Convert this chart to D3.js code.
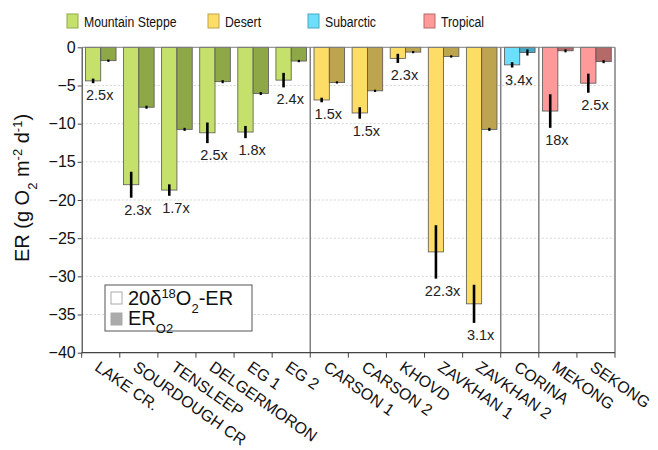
<!DOCTYPE html>
<html>
<head>
<meta charset="utf-8">
<script src="https://cdn.jsdelivr.net/npm/d3@7"></script>
<style>
  html, body { margin: 0; padding: 0; background: #fff; }
  svg { display: block; font-family: "Liberation Sans", Arial, sans-serif; }
</style>
</head>
<body>
<svg id="chart" width="658" height="450"></svg>
<script>
// Sites, ecosystem groups and respiration estimates (g O2 m-2 d-1)
const sites = ["LAKE CR.", "SOURDOUGH CR", "TENSLEEP", "DELGERMORON", "EG 1", "EG 2",
  "CARSON 1", "CARSON 2", "KHOVD", "ZAVKHAN 1", "ZAVKHAN 2", "CORINA", "MEKONG", "SEKONG"];
const siteGroup = ["Mountain Steppe", "Mountain Steppe", "Mountain Steppe", "Mountain Steppe",
  "Mountain Steppe", "Mountain Steppe", "Desert", "Desert", "Desert", "Desert", "Desert",
  "Subarctic", "Tropical", "Tropical"];
const groups = ["Mountain Steppe", "Desert", "Subarctic", "Tropical"];
const erIsotope = [-4.4, -18.0, -18.7, -11.2, -11.1, -4.3, -6.9, -8.6, -1.45, -26.8, -33.6, -2.3, -8.35, -4.7];
const erIsotopeErr = [0.3, 1.7, 0.75, 1.35, 0.8, 0.95, 0.3, 0.75, 0.6, 3.5, 2.5, 0.35, 2.2, 1.25];
const erO2 = [-1.75, -7.85, -10.75, -4.5, -6.05, -1.8, -4.6, -5.7, -0.63, -1.2, -10.75, -0.68, -0.46, -1.88];
const erO2Err = [0.15, 0.2, 0.2, 0.2, 0.2, 0.15, 0.15, 0.15, 0.15, 0.15, 0.2, 0.4, 0.2, 0.2];
const ratioLabels = ["2.5x", "2.3x", "1.7x", "2.5x", "1.8x", "2.4x", "1.5x", "1.5x", "2.3x",
  "22.3x", "3.1x", "3.4x", "18x", "2.5x"];
const yTicks = [0, -5, -10, -15, -20, -25, -30, -35, -40];

const lightColor = { "Mountain Steppe": "#c6e16b", "Desert": "#fedd66", "Subarctic": "#6cdffc", "Tropical": "#fe9a9a" };
const darkColor = { "Mountain Steppe": "#8ea747", "Desert": "#bda44f", "Subarctic": "#4aa7c2", "Tropical": "#b56a6a" };

const svg = d3.select("#chart");
const plotLeft = 81.7, plotRight = 615, plotTop = 47.3, plotBottom = 352.7;

const x = d3.scaleBand().domain(sites).range([plotLeft, plotRight]).padding(0);
const xSub = d3.scaleBand().domain(["iso", "o2"]).range([0, x.bandwidth()]).paddingInner(0).paddingOuter(0.245);
const y = d3.scaleLinear().domain([-40, 0]).range([plotBottom, plotTop]);

// dotted grid
svg.append("g").selectAll("line").data(yTicks.filter(t => t !== 0)).join("line")
  .attr("x1", plotLeft).attr("x2", plotRight)
  .attr("y1", d => y(d)).attr("y2", d => y(d))
  .attr("stroke", "#d4d4d4").attr("stroke-width", 1).attr("stroke-dasharray", "2,2");

// group separators
const sepIdx = [6, 11, 12];
svg.append("g").selectAll("line").data(sepIdx).join("line")
  .attr("x1", d => x(sites[d])).attr("x2", d => x(sites[d]))
  .attr("y1", plotTop).attr("y2", plotBottom)
  .attr("stroke", "#808080").attr("stroke-width", 1.5);
svg.append("line").attr("x1", plotRight).attr("x2", plotRight).attr("y1", plotTop).attr("y2", plotBottom)
  .attr("stroke", "#808080").attr("stroke-width", 1.5);

// bars
const rows = sites.map((s, i) => ({ s, i, g: siteGroup[i] }));
const barG = svg.append("g");
barG.selectAll("rect.iso").data(rows).join("rect").attr("class", "iso")
  .attr("x", d => x(d.s) + xSub("iso")).attr("width", xSub.bandwidth())
  .attr("y", y(0)).attr("height", d => y(erIsotope[d.i]) - y(0))
  .attr("fill", d => lightColor[d.g]).attr("stroke", "#555").attr("stroke-width", 0.8);
barG.selectAll("rect.o2").data(rows).join("rect").attr("class", "o2")
  .attr("x", d => x(d.s) + xSub("o2")).attr("width", xSub.bandwidth())
  .attr("y", y(0)).attr("height", d => y(erO2[d.i]) - y(0))
  .attr("fill", d => darkColor[d.g]).attr("stroke", "#555").attr("stroke-width", 0.8);

// error bars
barG.selectAll("line.eiso").data(rows).join("line").attr("class", "eiso")
  .attr("x1", d => x(d.s) + xSub("iso") + xSub.bandwidth() / 2)
  .attr("x2", d => x(d.s) + xSub("iso") + xSub.bandwidth() / 2)
  .attr("y1", d => y(erIsotope[d.i] + erIsotopeErr[d.i]))
  .attr("y2", d => y(erIsotope[d.i] - erIsotopeErr[d.i]))
  .attr("stroke", "#000").attr("stroke-width", 2.6);
barG.selectAll("line.eo2").data(rows).join("line").attr("class", "eo2")
  .attr("x1", d => x(d.s) + xSub("o2") + xSub.bandwidth() / 2)
  .attr("x2", d => x(d.s) + xSub("o2") + xSub.bandwidth() / 2)
  .attr("y1", d => y(erO2[d.i] + erO2Err[d.i]))
  .attr("y2", d => y(erO2[d.i] - erO2Err[d.i]))
  .attr("stroke", "#000").attr("stroke-width", 2.2);

// ratio labels
barG.selectAll("text.ratio").data(rows).join("text").attr("class", "ratio")
  .attr("x", d => x(d.s) + x.bandwidth() / 2 - 1)
  .attr("y", d => y(erIsotope[d.i] - erIsotopeErr[d.i]) + 12)
  .attr("dy", "0.35em").attr("text-anchor", "middle")
  .attr("font-size", 14.5).attr("fill", "#222").text(d => ratioLabels[d.i]);

// zero line
svg.append("line").attr("x1", plotLeft).attr("x2", plotRight).attr("y1", y(0)).attr("y2", y(0))
  .attr("stroke", "#808080").attr("stroke-width", 1);

// y axis
const yAxis = svg.append("g").attr("transform", `translate(${plotLeft},0)`)
  .call(d3.axisLeft(y).tickValues(yTicks).tickSize(4).tickSizeOuter(0)
    .tickFormat(d => d3.format("d")(d).replace("-", "\u2212")));
yAxis.select(".domain").attr("stroke", "#444").attr("stroke-width", 1.2);
yAxis.selectAll(".tick line").attr("stroke", "#444");
yAxis.selectAll(".tick text").attr("font-size", 16).attr("fill", "#111")
  .attr("font-family", "Liberation Sans, Arial, sans-serif").attr("x", -6);

// x axis: ticks at category boundaries
const xAxisG = svg.append("g");
xAxisG.append("line").attr("x1", plotLeft).attr("x2", plotRight).attr("y1", plotBottom).attr("y2", plotBottom)
  .attr("stroke", "#444").attr("stroke-width", 1.2);
const bounds = sites.map(s => x(s)).concat([plotRight]);
xAxisG.selectAll("line.t").data(bounds).join("line").attr("class", "t")
  .attr("x1", d => d).attr("x2", d => d).attr("y1", plotBottom).attr("y2", plotBottom + 5)
  .attr("stroke", "#444");
xAxisG.selectAll("text").data(sites).join("text")
  .attr("transform", d => `translate(${x(d) + x.bandwidth() / 2},${plotBottom + 7}) rotate(35)`)
  .attr("dy", "0.75em").attr("font-size", 16).attr("fill", "#111").text(d => d);

// y axis title
const yt = svg.append("text").attr("transform", "translate(29,188) rotate(-90)")
  .attr("text-anchor", "middle").attr("font-size", 20).attr("fill", "#111");
yt.append("tspan").text("ER (g O");
yt.append("tspan").attr("font-size", 13).attr("baseline-shift", "sub").text("2");
yt.append("tspan").text(" m");
yt.append("tspan").attr("font-size", 13).attr("baseline-shift", "super").text("-2");
yt.append("tspan").text(" d");
yt.append("tspan").attr("font-size", 13).attr("baseline-shift", "super").text("-1");
yt.append("tspan").text(")");

// top legend: ecosystem groups (condensed lettering)
const legX = [67, 208, 308, 424];
const topLeg = svg.append("g").selectAll("g").data(groups).join("g")
  .attr("transform", (d, i) => `translate(${legX[i]},14)`);
topLeg.append("rect").attr("width", 11).attr("height", 14)
  .attr("fill", d => lightColor[d]).attr("stroke", d => darkColor[d]).attr("stroke-width", 1);
topLeg.append("text").attr("transform", "translate(17,12.5) scale(0.79,1)")
  .attr("font-size", 15.5).attr("fill", "#111").text(d => d);

// bottom legend: estimate types
const bl = svg.append("g");
bl.append("rect").attr("x", 105).attr("y", 285).attr("width", 147).attr("height", 46)
  .attr("fill", "#fff").attr("stroke", "#555").attr("stroke-width", 1);
bl.append("rect").attr("x", 111).attr("y", 292).attr("width", 11).attr("height", 12)
  .attr("fill", "#fff").attr("stroke", "#aaa");
bl.append("rect").attr("x", 111).attr("y", 313).attr("width", 11).attr("height", 12)
  .attr("fill", "#ababab").attr("stroke", "#aaa");
const t1 = bl.append("text").attr("x", 128).attr("y", 305).attr("font-size", 20).attr("fill", "#111");
t1.append("tspan").text("20δ");
t1.append("tspan").attr("font-size", 13).attr("baseline-shift", "super").text("18");
t1.append("tspan").text("O");
t1.append("tspan").attr("font-size", 13).attr("baseline-shift", "sub").text("2");
t1.append("tspan").text("-ER");
const t2 = bl.append("text").attr("x", 128).attr("y", 325).attr("font-size", 20).attr("fill", "#111");
t2.append("tspan").text("ER");
t2.append("tspan").attr("font-size", 13).attr("baseline-shift", "sub").text("O2");
</script>
</body>
</html>
